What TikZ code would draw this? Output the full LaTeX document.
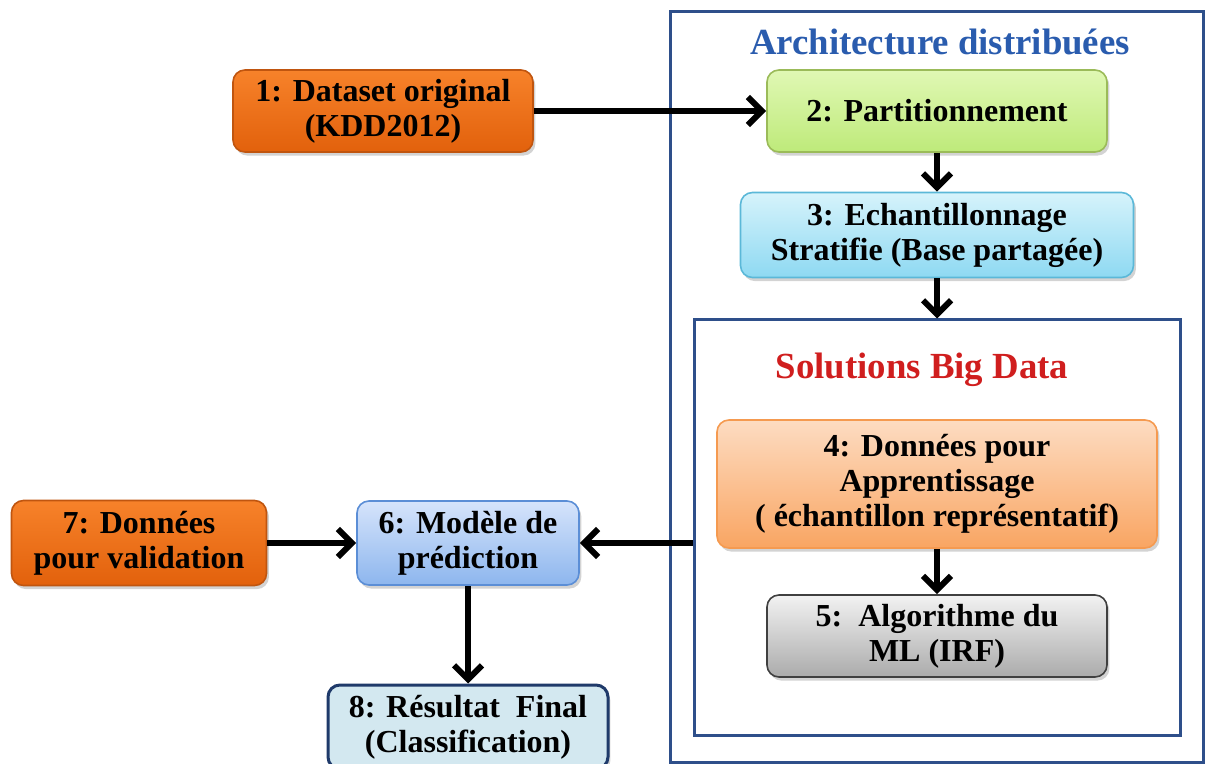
\documentclass[tikz,border=0pt]{standalone}
\usepackage{fontspec}
\setmainfont{Liberation Serif}
\usetikzlibrary{arrows.meta,shadows}

\definecolor{frameblue}{HTML}{2E4F8A}
\definecolor{titleblue}{HTML}{2A5CAE}
\definecolor{titlered}{HTML}{D01E1E}
\definecolor{orDraw}{HTML}{C0550F}
\definecolor{orTop}{HTML}{F7822A}
\definecolor{orBot}{HTML}{E2610C}
\definecolor{grDraw}{HTML}{9BBB59}
\definecolor{grTop}{HTML}{E0F8B4}
\definecolor{grBot}{HTML}{BEEA7A}
\definecolor{cyDraw}{HTML}{5BB8D8}
\definecolor{cyTop}{HTML}{D6F3FB}
\definecolor{cyBot}{HTML}{8ED9F2}
\definecolor{peDraw}{HTML}{F59A50}
\definecolor{peTop}{HTML}{FDDCC2}
\definecolor{peBot}{HTML}{F9A562}
\definecolor{gyDraw}{HTML}{404040}
\definecolor{gyTop}{HTML}{F2F2F2}
\definecolor{gyBot}{HTML}{ABABAB}
\definecolor{blDraw}{HTML}{5B8ED6}
\definecolor{blTop}{HTML}{D6E4FB}
\definecolor{blBot}{HTML}{8DB6EE}
\definecolor{reDraw}{HTML}{1F3A6A}
\definecolor{reFill}{HTML}{D3E8F0}

\tikzset{
  box/.style={draw, line width=0.8pt, rounded corners=6pt, align=center,
    font=\bfseries\fontsize{16}{17.5}\selectfont, text=black, inner sep=1pt,
    drop shadow={opacity=0.35, shadow xshift=1.2pt, shadow yshift=-1.8pt}},
  orangebox/.style={box, draw=orDraw, top color=orTop, bottom color=orBot},
  greenbox/.style={box, draw=grDraw, top color=grTop, bottom color=grBot},
  cyanbox/.style={box, draw=cyDraw, top color=cyTop, bottom color=cyBot},
  peachbox/.style={box, draw=peDraw, top color=peTop, bottom color=peBot},
  graybox/.style={box, draw=gyDraw, top color=gyTop, bottom color=gyBot},
  bluebox/.style={box, draw=blDraw, top color=blTop, bottom color=blBot},
  resultbox/.style={box, draw=reDraw, line width=1.5pt, fill=reFill},
  frame/.style={draw=frameblue, line width=1.5pt},
  arr/.style={-{Straight Barb[length=7pt,width=14pt,line width=3pt]}, line width=2.6pt, black},
  ftitle/.style={font=\bfseries\fontsize{18.4}{20}\selectfont}
}

\begin{document}
\begin{tikzpicture}[x=0.5pt,y=-0.5pt]
\useasboundingbox (0,0) rectangle (1210,764);
\clip (0,0) rectangle (1210,764);

% enclosing frames
\node[frame, minimum width=266.5pt, minimum height=375pt, inner sep=0pt] (outer) at (936.5,387) {};
\node[frame, minimum width=243pt, minimum height=207.5pt, inner sep=0pt] (inner) at (937,527.5) {};
\node[ftitle, text=titleblue] (toptitle) at (940,42) {Architecture distribuées};
\node[ftitle, text=titlered] (bdtitle) at (922,370) {Solutions Big Data};

% process steps
\node[orangebox, minimum width=150pt, minimum height=41pt] (b1) at (383,111) {1: Dataset original\\(KDD2012)};
\node[greenbox, minimum width=170pt, minimum height=41pt] (b2) at (937,111) {2: Partitionnement};
\node[cyanbox, minimum width=196.5pt, minimum height=42.5pt] (b3) at (937,235) {3: Echantillonnage\\Stratifie (Base partagée)};
\node[peachbox, minimum width=220pt, minimum height=64pt] (b4) at (937,484) {4: Données pour\\Apprentissage\\( échantillon représentatif)};
\node[graybox, minimum width=170pt, minimum height=41pt] (b5) at (937,636) {5:\ \ Algorithme du\\ML (IRF)};
\node[bluebox, minimum width=111pt, minimum height=42pt] (b6) at (468,543) {6: Modèle de\\prédiction};
\node[orangebox, minimum width=127.5pt, minimum height=42.5pt] (b7) at (139,543) {7: Données\\pour validation};
\node[resultbox, minimum width=140pt, minimum height=42pt] (b8) at (468,727) {8: Résultat\ \ Final\\(Classification)};

% connectors
\draw[arr] (b1.east) -- (b2.west);
\draw[arr] (b2.south) -- (b3.north);
\draw[arr] (b3.south) -- (inner.north);
\draw[arr] (b4.south) -- (b5.north);
\draw[arr] (inner.west |- b6.east) -- (b6.east);
\draw[arr] (b7.east) -- (b6.west);
\draw[arr] (b6.south) -- (b8.north);
\end{tikzpicture}
\end{document}
